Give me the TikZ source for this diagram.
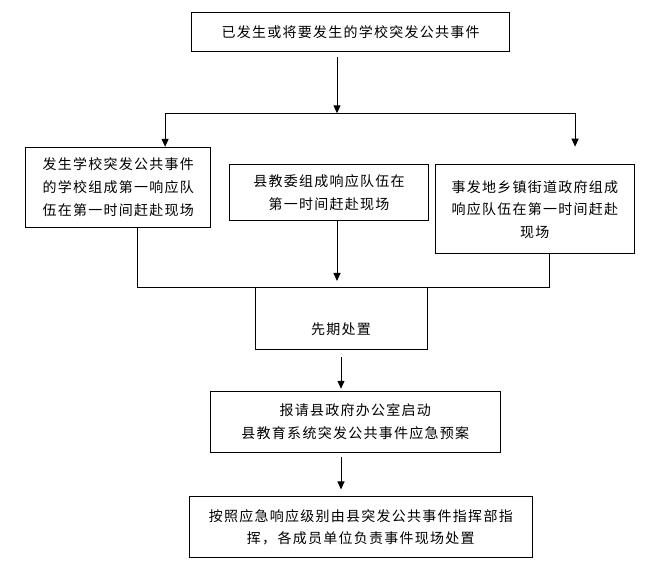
\documentclass[tikz,border=0pt]{standalone}
\usepackage{fontspec}
\newfontfamily\cjk[LetterSpace=9]{Noto Sans CJK SC}
\usetikzlibrary{arrows.meta}
\begin{document}
\begin{tikzpicture}[x=1pt,y=-1pt,
  box/.style={draw, line width=1pt, inner sep=0pt, align=center,
    font=\cjk\fontsize{14}{22.7}\selectfont},
  arr/.style={-{Triangle[length=8pt,width=7pt]}, line width=1pt},
  ln/.style={line width=1pt}]
\useasboundingbox (0,0) rectangle (649,564);

\node[box, minimum width=317.8pt, minimum height=38.6pt] (top) at (350.6,32)
  {已发生或将要发生的学校突发公共事件};
\node[box, minimum width=185.1pt, minimum height=80pt] (L) at (118.25,187.3)
  {发生学校突发公共事件\\的学校组成第一响应队\\伍在第一时间赶赴现场};
\node[box, minimum width=198.3pt, minimum height=55.3pt] (M) at (329.05,192.65)
  {县教委组成响应队伍在\\第一时间赶赴现场};
\node[box, minimum width=198.3pt, minimum height=89pt] (R) at (534.85,209.5)
  {事发地乡镇街道政府组成\\响应队伍在第一时间赶赴\\现场};
\node[box, minimum width=172pt, minimum height=62pt, text height=33.6pt, text depth=3pt] (P) at (341,319)
  {先期处置};
\node[box, minimum width=290pt, minimum height=61pt] (B3) at (355.3,421.8)
  {报请县政府办公室启动\\县教育系统突发公共事件应急预案};
\node[box, minimum width=343pt, minimum height=61pt] (B4) at (360.8,527.2)
  {按照应急响应级别由县突发公共事件指挥部指\\挥，各成员单位负责事件现场处置};

\coordinate (j0) at (337,113.3);
\coordinate (hl) at (165.1,113.3);
\coordinate (hr) at (575.1,113.3);
\coordinate (rt) at (575.1,146.7);
\coordinate (mt) at (337,281);
\coordinate (bl) at (137.8,288);
\coordinate (br) at (549.8,288);

\draw[arr, shorten <=5.4pt] (top.south -| j0) -- (j0);
\draw[ln] (hl) -- (hr);
\draw[arr] (hl) -- (hl |- L.north);
\draw[arr] (hr) -- (rt);
\draw[arr] (M.south -| mt) -- (mt);
\draw[ln] (L.south -| bl) -- (bl) -- (br) -- (R.south -| br);
\draw[arr, shorten <=6.7pt, shorten >=2pt] (P.south) -- (B3.north -| P.south);
\draw[arr, shorten <=4.4pt, shorten >=6.7pt] (B3.south -| P.south) -- (B4.north -| P.south);
\end{tikzpicture}
\end{document}
